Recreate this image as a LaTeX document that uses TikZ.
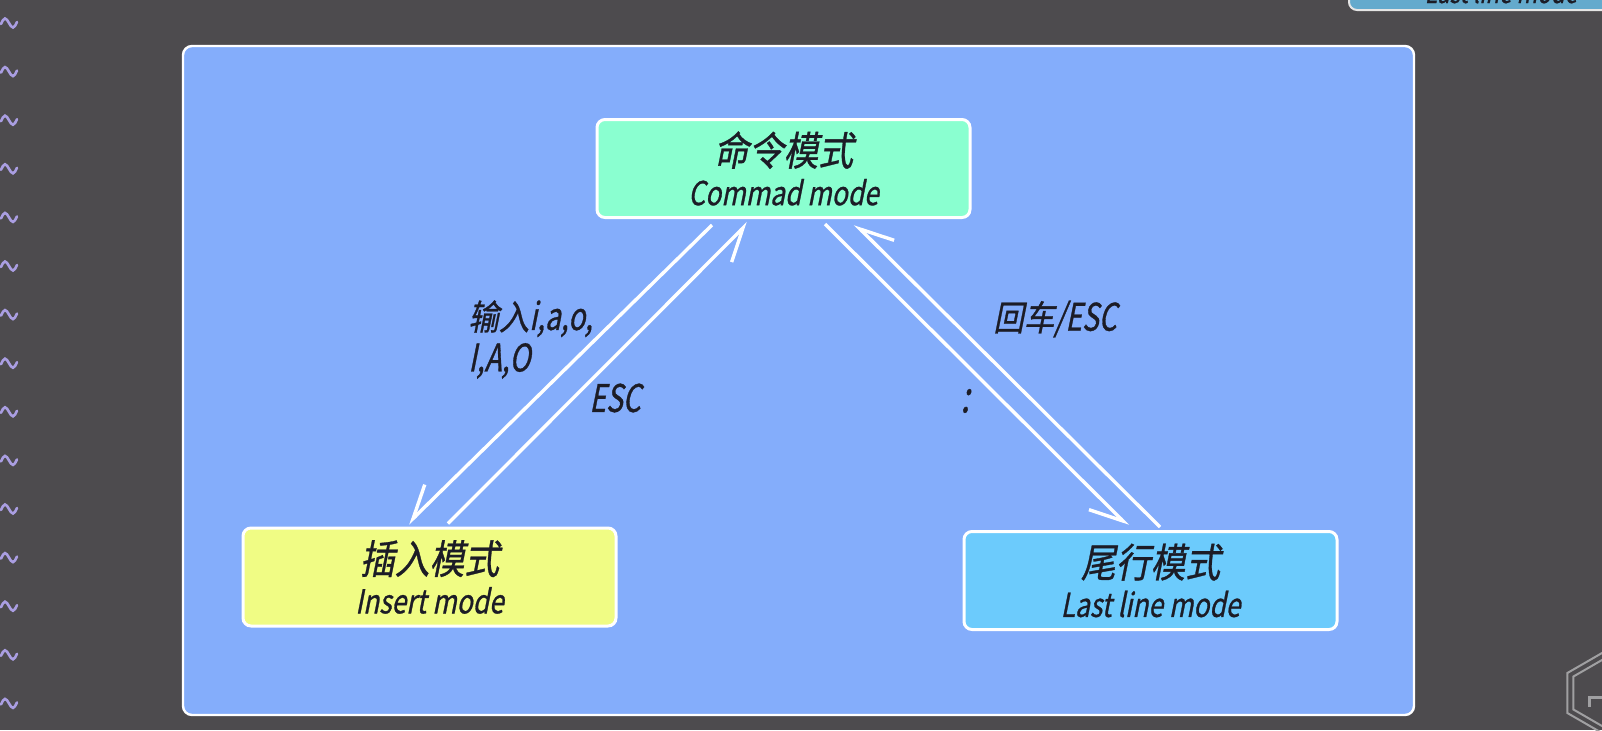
\documentclass[tikz,border=0pt]{standalone}
\usepackage{fontspec}
\usetikzlibrary{arrows.meta}
\usetikzlibrary{calc}

\newfontfamily\cjk[FakeSlant=0.2,FakeStretch=0.87,FakeBold=0.8]{Noto Sans CJK SC}
\newfontfamily\lat[FakeSlant=0.2,FakeStretch=0.8,FakeBold=0.8]{Noto Sans CJK SC}
\newfontfamily\latnarrow[FakeSlant=0.2,FakeStretch=0.74,FakeBold=0.8]{Noto Sans CJK SC}

\definecolor{bgdark}{RGB}{77,75,78}
\definecolor{panelblue}{RGB}{132,173,251}
\definecolor{cmdgreen}{RGB}{138,255,208}
\definecolor{insyellow}{RGB}{240,252,132}
\definecolor{lastblue}{RGB}{108,203,252}
\definecolor{prevblue}{RGB}{100,170,205}
\definecolor{tildecol}{RGB}{170,158,226}
\definecolor{logogray}{RGB}{160,160,162}
\definecolor{labelink}{RGB}{28,28,38}

\begin{document}
\begin{tikzpicture}[x=0.5pt, y=-0.5pt,
        modebox/.style={draw=white, line width=1.5pt, rounded corners=4pt, minimum width=186.5pt,
            minimum height=49pt, align=center, text=labelink, inner sep=0pt},
        modearrow/.style={white, line width=1.7pt, -{Straight Barb[right, length=16pt, width=16pt]}},
        edgelabel/.style={text=labelink, inner sep=0pt}]
        \useasboundingbox (0, 0) rectangle (1602, 730);
        \clip (0, 0) rectangle (1602, 730);
        \fill[bgdark] (0, 0) rectangle (1602, 730);

        % editor gutter
        \foreach \k in {0,...,14} {
            \pgfmathsetmacro\ty{23+48.6*\k}
            \draw[tildecol, line width=1.3pt, line cap=round] (1, \ty+1) sin (5, \ty-4.5) cos (9, \ty) sin (13, \ty+4.5) cos (17, \ty-1);
        }

        % previous slide, cut off at the top
        \draw[draw=white!80!gray, line width=1pt, fill=prevblue, rounded corners=4pt] (1349, -40) rectangle (1660, 10);
        \node[text=labelink, anchor=base, inner sep=0pt] (prevtext) at (1501, 3) {\lat\fontsize{14}{16}\selectfont Last line mode};

        % logo
        \draw[logogray, line width=1pt] (1602, 693) +(30:40) -- +(90:40) -- +(150:40) -- +(210:40) -- +(270:40) -- +(330:40) -- cycle;
        \draw[logogray, line width=1pt] (1602, 693) +(30:33) -- +(90:33) -- +(150:33) -- +(210:33) -- +(270:33) -- +(330:33);
        \draw[logogray, line width=1.5pt] (1588, 697) -- (1604, 697);
        \draw[logogray, line width=1.5pt] (1589, 697) -- (1589, 707);

        \draw[white, line width=1.2pt, fill=panelblue, rounded corners=4.5pt] (183, 46) rectangle (1414, 715);

        \node[modebox, fill=cmdgreen] (cmd) at (783.5, 168.5)
            {{\cjk\fontsize{20}{24}\selectfont 命令模式}\\[4pt]{\lat\fontsize{16.5}{19}\selectfont Commad mode}};
        \node[modebox, fill=insyellow] (ins) at (429.5, 577)
            {{\cjk\fontsize{20}{24}\selectfont 插入模式}\\[4pt]{\lat\fontsize{16.5}{19}\selectfont Insert mode}};
        \node[modebox, fill=lastblue] (last) at (1150.5, 580.5)
            {{\cjk\fontsize{20}{24}\selectfont 尾行模式}\\[4pt]{\lat\fontsize{16.5}{19}\selectfont Last line mode}};

        \draw[modearrow] ($(cmd.south)+(-71.5, 6)$) -- ($(ins.north)+(-21.5, -3)$);
        \draw[modearrow] ($(ins.north)+(18.5, -3)$) -- ($(cmd.south)+(-35.5, 4)$);
        \draw[modearrow] ($(cmd.south)+(41.5, 5)$) -- ($(last.north)+(-22.5, -4)$);
        \draw[modearrow] ($(last.north)+(9.5, -3)$) -- ($(cmd.south)+(71.5, 5)$);

        \node[edgelabel, align=left, anchor=north west] (keys) at (468, 300)
            {{\cjk\fontsize{17.5}{21}\selectfont 输入}{\latnarrow\fontsize{19}{22}\selectfont i,a,o,}\\[2pt]{\latnarrow\fontsize{19}{22}\selectfont I,A,O}};
        \node[edgelabel] (esc) at (615, 398) {\latnarrow\fontsize{19}{22}\selectfont ESC};
        \node[edgelabel] (enter) at (1055, 319) {{\cjk\fontsize{17.5}{21}\selectfont 回车}{\latnarrow\fontsize{19}{22}\selectfont /ESC}};
        \node[edgelabel] (colon) at (965, 401) {\latnarrow\fontsize{22}{24}\selectfont :};
    \end{tikzpicture}
\end{document}
